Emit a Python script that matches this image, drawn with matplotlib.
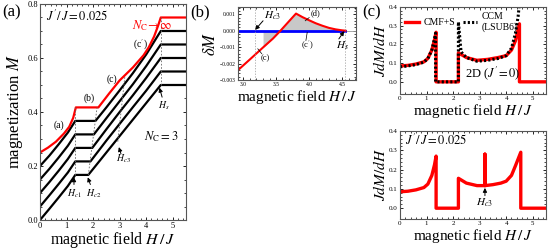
import matplotlib.pyplot as plt

plt.rcParams['font.family'] = ['Liberation Serif', 'DejaVu Serif']
plt.rcParams['mathtext.fontset'] = 'stix'
plt.rcParams['xtick.direction'] = 'in'
plt.rcParams['ytick.direction'] = 'in'
plt.rcParams['xtick.top'] = True
plt.rcParams['ytick.right'] = True

# ---- panel (a): magnetization curves ----
# black curves N_C = 3..7 (bottom to top)
h_black = [
    [0, 0.35, 0.7, 1.05, 1.33, 1.82, 2.5, 3.0, 3.5, 4.0, 4.55, 5.5],
    [0, 0.35, 0.7, 1.05, 1.33, 1.90, 2.5, 3.0, 3.5, 4.0, 4.55, 5.5],
    [0, 0.35, 0.7, 1.05, 1.33, 1.97, 2.5, 3.0, 3.5, 4.0, 4.55, 5.5],
    [0, 0.35, 0.7, 1.05, 1.33, 2.03, 2.5, 3.0, 3.5, 4.0, 4.55, 5.5],
    [0, 0.35, 0.7, 1.05, 1.33, 2.09, 2.5, 3.0, 3.5, 4.0, 4.55, 5.5],
]
m_black = [
    [0.00, 0.041, 0.083, 0.126, 0.167, 0.167, 0.250, 0.311, 0.372, 0.433, 0.50, 0.50],
    [0.05, 0.091, 0.133, 0.176, 0.217, 0.217, 0.294, 0.356, 0.418, 0.479, 0.55, 0.55],
    [0.10, 0.140, 0.182, 0.226, 0.267, 0.267, 0.336, 0.400, 0.462, 0.526, 0.60, 0.60],
    [0.15, 0.189, 0.231, 0.275, 0.317, 0.317, 0.377, 0.440, 0.503, 0.570, 0.65, 0.65],
    [0.20, 0.238, 0.280, 0.324, 0.367, 0.367, 0.417, 0.480, 0.544, 0.613, 0.70, 0.70],
]
# red curve N_C -> infinity
h_red = [0, 0.3, 0.6, 0.9, 1.1, 1.25, 1.35, 2.2, 2.6, 3.0, 3.5, 3.9, 4.1, 4.3, 4.45, 4.55, 5.5]
m_red = [0.25, 0.268, 0.29, 0.32, 0.345, 0.378, 0.417, 0.417, 0.468, 0.517, 0.565, 0.61, 0.64, 0.68, 0.72, 0.75, 0.75]

# ---- panel (b): deviation from linear ----
h_dm = [2.92, 3.1, 3.3, 3.45, 3.565, 3.7, 3.8, 3.9, 4.0, 4.1, 4.2, 4.3, 4.4, 4.5, 4.55]
dm = [-0.0024, -0.00175, -0.00102, -0.00048, 0.0, 0.0006, 0.00104, 0.00082, 0.00063, 0.00045,
      0.0003, 0.00017, 0.00008, 0.00002, 0.0]
h_c3 = 3.18
h_s = 4.55

# ---- panel (c): susceptibility ----
h_cmf = [0, 0.3, 0.6, 0.9, 1.05, 1.2, 1.3, 1.36, 1.36, 2.2, 2.2, 2.5, 2.9, 3.3, 3.7, 4.0, 4.2, 4.35, 4.5, 4.5, 5.5]
x_cmf = [0.085, 0.088, 0.095, 0.107, 0.125, 0.17, 0.225, 0.265, 0, 0, 0.155, 0.13, 0.115, 0.12, 0.13,
         0.14, 0.17, 0.22, 0.31, 0, 0]
h_ccm = [0, 0.3, 0.6, 0.9, 1.05, 1.2, 1.3, 1.34, 1.34, 2.2, 2.2, 2.3, 2.5, 2.9, 3.3, 3.7, 4.0, 4.2, 4.35, 4.45, 4.5]
x_ccm = [0.08, 0.085, 0.092, 0.105, 0.125, 0.17, 0.23, 0.26, 0, 0, 0.32, 0.16, 0.13, 0.11, 0.115,
         0.125, 0.14, 0.18, 0.26, 0.35, 0.42]
h_3d = [0, 0.3, 0.6, 0.9, 1.05, 1.2, 1.3, 1.36, 1.36, 2.2, 2.2, 2.5, 2.9, 3.2, 3.2, 3.2, 3.5, 3.8, 4.0,
        4.2, 4.35, 4.55, 4.55, 5.5]
x_3d = [0.085, 0.088, 0.095, 0.107, 0.125, 0.17, 0.225, 0.27, 0, 0, 0.155, 0.13, 0.117, 0.117, 0.28,
        0.117, 0.122, 0.13, 0.14, 0.17, 0.22, 0.29, 0, 0]

fig = plt.figure(figsize=(5.48, 2.49), dpi=100)
W, H = 548.0, 249.0


def box(l, t, r, b):
    return [l / W, 1 - b / H, (r - l) / W, (b - t) / H]


def style(ax, fs=6):
    ax.tick_params(labelsize=fs, length=2.5, width=0.6, pad=1.5)
    ax.tick_params(which='minor', length=1.5, width=0.5)
    for s in ax.spines.values():
        s.set_color('#555555')
        s.set_linewidth(0.8)


arr = dict(arrowstyle='-|>', color='k', lw=0.7, mutation_scale=6, shrinkA=0, shrinkB=0)

# (a)
ax = fig.add_axes(box(40, 4, 186, 220))
for hh, mm in zip(h_black, m_black):
    ax.plot(hh, mm, color='k', lw=1.6)
ax.plot(h_red, m_red, color='red', lw=1.6)
ax.plot([1.33, 1.33], [0.167, 0.417], ls=(0, (2, 2)), color='#666666', lw=0.6)
ax.plot([1.82, 2.15], [0.167, 0.417], ls=(0, (2, 2)), color='#666666', lw=0.6)
ax.plot([2.93, 3.2], [0.29, 0.535], ls=(0, (2, 2)), color='#666666', lw=0.6)
ax.plot([4.55, 4.55], [0.5, 0.75], ls=(0, (2, 2)), color='#666666', lw=0.6)
ax.set_xlim(0, 5.5)
ax.set_ylim(0, 0.8)
ax.set_xticks([0, 1, 2, 3, 4, 5])
ax.set_yticks([0.0, 0.2, 0.4, 0.6, 0.8])
ax.set_yticklabels(['0.0', '0.2', '0.4', '0.6', '0.8'])
ax.set_xticks([i * 0.2 for i in range(28)], minor=True)
ax.set_yticks([i * 0.05 for i in range(17)], minor=True)
style(ax)
ax.set_xlabel('magnetic field $H\\,/\\,J$', fontsize=11.5, labelpad=0)
ax.set_ylabel('magnetization $M$', fontsize=12, labelpad=2)
ax.text(0.22, 0.755, "$J'/\\,J = 0.025$", fontsize=9, va='center')
ax.text(3.45, 0.72, '$N_{\\rm C}\\!\\rightarrow\\!\\infty$', color='red', fontsize=9, va='center')
ax.text(3.52, 0.648, "(c$'$)", fontsize=7, va='center')
ax.text(2.52, 0.52, '(c)', fontsize=7, va='center')
ax.text(1.66, 0.45, '(b)', fontsize=7, va='center')
ax.text(0.5, 0.352, '(a)', fontsize=7, va='center')
ax.text(3.9, 0.31, '$N_{\\rm C} = 3$', fontsize=9, va='center')
ax.annotate('$H_{c1}$', xy=(1.28, 0.158), xytext=(1.28, 0.098), fontsize=7, ha='center', va='center',
            arrowprops=arr)
ax.annotate('$H_{c2}$', xy=(1.8, 0.158), xytext=(2.02, 0.098), fontsize=7, ha='center', va='center',
            arrowprops=arr)
ax.annotate('', xy=(2.97, 0.27), xytext=(3.05, 0.245), arrowprops=arr)
ax.text(3.15, 0.228, '$H_{c3}$', fontsize=7, ha='center', va='center')
ax.annotate('', xy=(4.5, 0.49), xytext=(4.6, 0.455), arrowprops=arr)
ax.text(4.65, 0.425, '$H_{s}$', fontsize=7, ha='center', va='center')
fig.text(2 / W, 1 - 12 / H, '(a)', fontsize=12, va='center')

# (b)
bx = fig.add_axes(box(238, 7, 356, 80))
bx.axhline(0, color='#999999', lw=0.6)
bx.fill_between(h_dm, dm, 0, where=[h >= h_c3 for h in h_dm], color='#c8c8c8', lw=0,
                interpolate=True)
bx.plot([2.92, h_s], [0, 0], color='blue', lw=2)
bx.plot(h_dm, dm, color='red', lw=1.5)
bx.axvline(h_c3, ls=(0, (2, 2)), color='#999999', lw=0.5)
bx.axvline(h_s, ls=(0, (2, 2)), color='#999999', lw=0.5)
bx.set_xlim(2.92, 4.71)
bx.set_ylim(-0.003, 0.00144)
bx.set_xticks([3.0, 3.5, 4.0, 4.5])
bx.set_xticklabels(['3.0', '3.5', '4.0', '4.5'])
bx.set_yticks([-0.003, -0.002, -0.001, 0.0, 0.001])
bx.set_yticklabels(['\u22120.003', '\u22120.002', '\u22120.001', '0.000', '0.001'])
bx.set_xticks([3.0 + 0.1 * i for i in range(18)], minor=True)
bx.set_yticks([-0.003 + 0.0002 * i for i in range(23)], minor=True)
style(bx, fs=4)
bx.set_xlabel('magnetic field $H\\,/\\,J$', fontsize=11, labelpad=1)
bx.set_ylabel('$\\delta M$', fontsize=12, labelpad=1)
bx.annotate('', xy=(h_c3, 0.00005), xytext=(3.3, 0.0006), arrowprops=arr)
bx.text(3.32, 0.0009, '$H_{c3}$', fontsize=8, va='center')
bx.text(4.02, 0.00105, '(d)', fontsize=6, va='center')
bx.plot([4.0, 3.94], [0.0008, 0.0006], color='k', lw=0.5)
bx.text(3.88, -0.0009, "(c$'$)", fontsize=6, va='center')
bx.plot([3.95, 3.97], [-0.0006, -0.0001], color='k', lw=0.5)
bx.text(3.27, -0.0017, '(c)', fontsize=6, va='center')
bx.plot([3.28, 3.22], [-0.0014, -0.0011], color='k', lw=0.5)
bx.annotate('', xy=(4.53, -0.00003), xytext=(4.45, -0.0005), arrowprops=arr)
bx.text(4.4, -0.0009, '$H_{s}$', fontsize=8, va='center')
fig.text(190 / W, 1 - 12 / H, '(b)', fontsize=12, va='center')

# (c) top
cx = fig.add_axes(box(400, 7, 546, 94))
cx.plot(h_cmf, x_cmf, color='red', lw=2.4, label='CMF+S')
cx.plot(h_ccm, x_ccm, color='k', lw=2.2, ls=(0, (0.7, 0.7)), label='CCM\n(LSUB6)')
cx.set_xlim(0, 5.5)
cx.set_ylim(-0.065, 0.4)
cx.set_xticks([0, 1, 2, 3, 4, 5])
cx.set_yticks([0.0, 0.1, 0.2, 0.3, 0.4])
cx.set_xticks([i * 0.2 for i in range(28)], minor=True)
cx.set_yticks([i * 0.02 for i in range(21)], minor=True)
style(cx, fs=5)
cx.set_xlabel('magnetic field $H\\,/\\,J$', fontsize=11, labelpad=1)
cx.set_ylabel('$J dM/dH$', fontsize=11, labelpad=1)
cx.legend(loc='upper left', ncol=2, fontsize=7, frameon=False, handlelength=1.5, columnspacing=0.8,
          borderaxespad=0.1, handletextpad=0.4)
cx.text(3.5, 0.0, "2D ($J'\\!=0$)", fontsize=9, ha='center', va='bottom')
fig.text(362 / W, 1 - 12 / H, '(c)', fontsize=12, va='center')

# (c) bottom
dx = fig.add_axes(box(400, 131, 546, 219))
dx.plot(h_3d, x_3d, color='red', lw=2.4)
dx.set_xlim(0, 5.5)
dx.set_ylim(-0.056, 0.4)
dx.set_xticks([0, 1, 2, 3, 4, 5])
dx.set_yticks([0.0, 0.1, 0.2, 0.3, 0.4])
dx.set_xticks([i * 0.2 for i in range(28)], minor=True)
dx.set_yticks([i * 0.02 for i in range(21)], minor=True)
style(dx, fs=5)
dx.set_xlabel('magnetic field $H\\,/\\,J$', fontsize=11, labelpad=1)
dx.set_ylabel('$J dM/dH$', fontsize=11, labelpad=1)
dx.text(0.2, 0.35, "$J'/\\,J = 0.025$", fontsize=9, va='center')
dx.annotate('', xy=(3.2, 0.105), xytext=(3.2, 0.065), arrowprops=arr)
dx.text(3.2, 0.03, '$H_{c3}$', fontsize=8, ha='center', va='center')

fig.savefig('out.png', dpi=100)
